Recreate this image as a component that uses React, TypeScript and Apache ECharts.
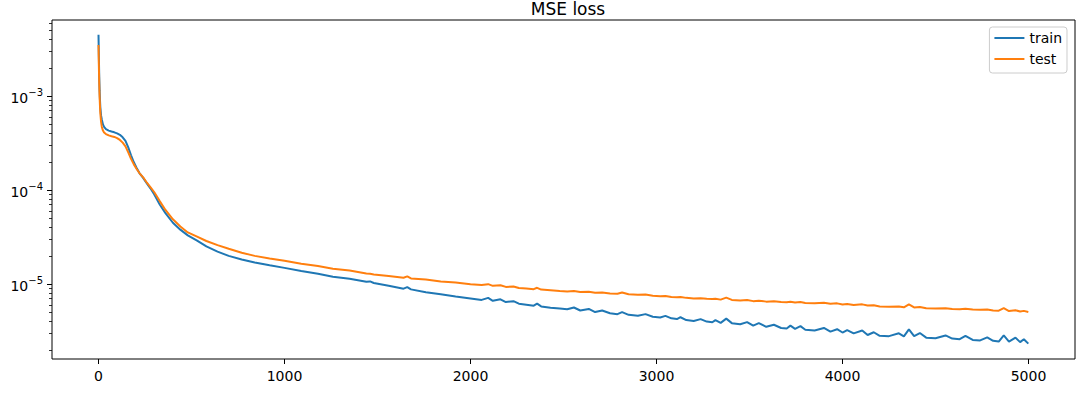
import React, { useEffect, useRef } from "react";
import * as echarts from "echarts";

const epochs = [
  0, 2, 4, 6, 8, 10, 14, 18, 24, 30,
  40, 55, 70, 85, 100, 115, 130, 145, 160, 175,
  190, 205, 220, 240, 260, 280, 300, 330, 360, 400,
  440, 480, 530, 580, 640, 700, 770, 840, 920, 1000,
  1090, 1180, 1260, 1350, 1440, 1460, 1480, 1560, 1640, 1660,
  1680, 1760, 1840, 1920, 2000, 2060, 2095, 2120, 2161, 2190,
  2231, 2260, 2300, 2340, 2358, 2380, 2430, 2480, 2520, 2556,
  2590, 2636, 2670, 2708, 2750, 2790, 2815, 2850, 2900, 2941,
  2980, 3020, 3048, 3080, 3110, 3129, 3160, 3200, 3237, 3270,
  3300, 3317, 3345, 3375, 3405, 3450, 3487, 3520, 3550, 3590,
  3631, 3670, 3700, 3720, 3745, 3774, 3800, 3850, 3900, 3935,
  3971, 4000, 4025, 4060, 4106, 4135, 4168, 4200, 4250, 4303,
  4330, 4357, 4385, 4416, 4450, 4500, 4554, 4590, 4630, 4661,
  4700, 4740, 4778, 4810, 4840, 4867, 4895, 4930, 4955, 4975,
  4999,
];

const trainLoss = [
  4.5e-3, 2.6e-3, 1.6e-3, 1.15e-3, 9.0e-4, 7.5e-4, 6.2e-4, 5.6e-4, 5.0e-4, 4.7e-4,
  4.45e-4, 4.3e-4, 4.2e-4, 4.12e-4, 4.02e-4, 3.88e-4, 3.65e-4, 3.35e-4, 2.85e-4, 2.35e-4,
  1.98e-4, 1.72e-4, 1.52e-4, 1.35e-4, 1.18e-4, 1.04e-4, 9.0e-5, 7.0e-5, 5.7e-5, 4.5e-5,
  3.8e-5, 3.3e-5, 2.9e-5, 2.52e-5, 2.22e-5, 2.0e-5, 1.83e-5, 1.7e-5, 1.59e-5, 1.49e-5,
  1.38e-5, 1.29e-5, 1.2e-5, 1.14e-5, 1.06e-5, 1.07e-5, 1.03e-5, 9.6e-6, 8.95e-6, 9.3e-6,
  8.8e-6, 8.2e-6, 7.8e-6, 7.4e-6, 7.05e-6, 6.8e-6, 7.15e-6, 6.65e-6, 6.9e-6, 6.45e-6,
  6.6e-6, 6.2e-6, 6.05e-6, 5.9e-6, 6.2e-6, 5.8e-6, 5.62e-6, 5.5e-6, 5.4e-6, 5.65e-6,
  5.25e-6, 5.45e-6, 5.05e-6, 5.25e-6, 4.9e-6, 4.8e-6, 5.05e-6, 4.72e-6, 4.62e-6, 4.8e-6,
  4.5e-6, 4.42e-6, 4.6e-6, 4.33e-6, 4.25e-6, 4.45e-6, 4.15e-6, 4.05e-6, 4.25e-6, 4.0e-6,
  3.93e-6, 4.15e-6, 3.88e-6, 4.3e-6, 3.85e-6, 3.75e-6, 3.95e-6, 3.62e-6, 3.85e-6, 3.52e-6,
  3.7e-6, 3.42e-6, 3.38e-6, 3.62e-6, 3.35e-6, 3.58e-6, 3.28e-6, 3.22e-6, 3.42e-6, 3.13e-6,
  3.32e-6, 3.06e-6, 3.25e-6, 3.0e-6, 3.22e-6, 2.88e-6, 3.08e-6, 2.82e-6, 2.8e-6, 3.0e-6,
  2.78e-6, 3.3e-6, 2.8e-6, 3.02e-6, 2.7e-6, 2.66e-6, 2.85e-6, 2.64e-6, 2.6e-6, 2.82e-6,
  2.55e-6, 2.52e-6, 2.72e-6, 2.5e-6, 2.45e-6, 2.85e-6, 2.45e-6, 2.7e-6, 2.42e-6, 2.6e-6,
  2.33e-6,
];

const testLoss = [
  3.5e-3, 2.1e-3, 1.35e-3, 9.8e-4, 7.8e-4, 6.5e-4, 5.3e-4, 4.7e-4, 4.3e-4, 4.1e-4,
  3.95e-4, 3.82e-4, 3.74e-4, 3.68e-4, 3.58e-4, 3.42e-4, 3.2e-4, 2.92e-4, 2.52e-4, 2.15e-4,
  1.88e-4, 1.68e-4, 1.52e-4, 1.37e-4, 1.2e-4, 1.07e-4, 9.5e-5, 7.6e-5, 6.15e-5, 4.9e-5,
  4.1e-5, 3.55e-5, 3.2e-5, 2.88e-5, 2.6e-5, 2.38e-5, 2.16e-5, 2.0e-5, 1.88e-5, 1.77e-5,
  1.65e-5, 1.56e-5, 1.46e-5, 1.4e-5, 1.3e-5, 1.29e-5, 1.27e-5, 1.22e-5, 1.17e-5, 1.21e-5,
  1.15e-5, 1.12e-5, 1.07e-5, 1.04e-5, 1.0e-5, 9.8e-6, 1.0e-5, 9.6e-6, 9.75e-6, 9.35e-6,
  9.45e-6, 9.1e-6, 9.0e-6, 8.85e-6, 9.15e-6, 8.75e-6, 8.6e-6, 8.45e-6, 8.36e-6, 8.45e-6,
  8.25e-6, 8.3e-6, 8.1e-6, 8.15e-6, 7.95e-6, 7.9e-6, 8.15e-6, 7.8e-6, 7.7e-6, 7.75e-6,
  7.55e-6, 7.45e-6, 7.5e-6, 7.3e-6, 7.25e-6, 7.3e-6, 7.15e-6, 7.05e-6, 7.1e-6, 7.0e-6,
  6.95e-6, 7.0e-6, 6.85e-6, 7.2e-6, 6.8e-6, 6.72e-6, 6.78e-6, 6.6e-6, 6.68e-6, 6.52e-6,
  6.58e-6, 6.45e-6, 6.42e-6, 6.5e-6, 6.38e-6, 6.45e-6, 6.32e-6, 6.28e-6, 6.35e-6, 6.2e-6,
  6.25e-6, 6.08e-6, 6.15e-6, 6.0e-6, 6.1e-6, 5.92e-6, 5.98e-6, 5.8e-6, 5.75e-6, 5.8e-6,
  5.68e-6, 6.1e-6, 5.65e-6, 5.72e-6, 5.55e-6, 5.52e-6, 5.55e-6, 5.45e-6, 5.42e-6, 5.48e-6,
  5.38e-6, 5.33e-6, 5.38e-6, 5.26e-6, 5.22e-6, 5.55e-6, 5.18e-6, 5.28e-6, 5.12e-6, 5.2e-6,
  5.06e-6,
];

const xTicks = [0, 1000, 2000, 3000, 4000, 5000];
const yMajorTicks = [1e-5, 1e-4, 1e-3];
const yMinorTicks = [
  2e-6, 3e-6, 4e-6, 5e-6, 6e-6, 7e-6, 8e-6, 9e-6,
  2e-5, 3e-5, 4e-5, 5e-5, 6e-5, 7e-5, 8e-5, 9e-5,
  2e-4, 3e-4, 4e-4, 5e-4, 6e-4, 7e-4, 8e-4, 9e-4,
  2e-3, 3e-3, 4e-3, 5e-3, 6e-3,
];

const FONT = "DejaVu Sans";
const Y_MIN = 1.6e-6;
const Y_MAX = 6.45e-3;

export default function App() {
  const ref = useRef<HTMLDivElement>(null);
  useEffect(() => {
    if (!ref.current) return;
    const chart = echarts.init(ref.current, undefined, { renderer: "svg" });
    const expLabel = (v: number) => {
      const e = Math.round(Math.log10(v));
      const s = e < 0 ? "\u2212" + Math.abs(e) : String(e);
      return `{b|10}{e|${s}}`;
    };
    chart.setOption({
      animation: false,
      title: {
        text: "MSE loss",
        left: 563,
        top: -5,
        textAlign: "center",
        textStyle: { fontFamily: FONT, fontSize: 17, fontWeight: "normal", color: "#000" },
      },
      legend: {
        orient: "vertical",
        right: 17,
        top: 27,
        padding: [4, 5, 7, 5],
        itemWidth: 30,
        itemHeight: 2,
        itemGap: 7,
        icon: "rect",
        borderColor: "#cccccc",
        borderWidth: 1,
        borderRadius: 3,
        backgroundColor: "rgba(255,255,255,0.8)",
        textStyle: { fontFamily: FONT, fontSize: 14, color: "#000" },
        data: ["train", "test"],
      },
      grid: {
        left: 52,
        right: 9,
        top: 20,
        bottom: 35,
        show: true,
        borderColor: "#000",
        borderWidth: 1,
        backgroundColor: "transparent",
      },
      xAxis: {
        type: "value",
        min: -250,
        max: 5250,
        axisLine: { show: false, onZero: false },
        splitLine: { show: false },
        axisTick: { show: true, length: 5, customValues: xTicks, lineStyle: { color: "#000", width: 1 } },
        axisLabel: {
          customValues: xTicks,
          margin: 10,
          fontFamily: FONT,
          fontSize: 14,
          color: "#000",
          formatter: (v: number) => String(v),
        },
      },
      yAxis: [
        {
          type: "log",
          min: Y_MIN,
          max: Y_MAX,
          position: "left",
          axisLine: { show: false, onZero: false },
          splitLine: { show: false },
          axisTick: { show: true, length: 5, customValues: yMajorTicks, lineStyle: { color: "#000", width: 1 } },
          axisLabel: {
            customValues: yMajorTicks,
            margin: 9,
            formatter: expLabel,
            rich: {
              b: { fontFamily: FONT, fontSize: 14, color: "#000", verticalAlign: "bottom" },
              e: { fontFamily: FONT, fontSize: 10, color: "#000", verticalAlign: "bottom", padding: [0, 0, 7, 0] },
            },
          },
        },
        {
          type: "log",
          min: Y_MIN,
          max: Y_MAX,
          position: "left",
          offset: 0,
          axisLine: { show: false, onZero: false },
          splitLine: { show: false },
          axisLabel: { show: false },
          axisTick: { show: true, length: 3, customValues: yMinorTicks, lineStyle: { color: "#000", width: 0.8 } },
        },
      ],
      series: [
        {
          name: "train",
          type: "line",
          yAxisIndex: 0,
          showSymbol: false,
          symbol: "none",
          data: epochs.map((e, i) => [e, trainLoss[i]]),
          lineStyle: { color: "#1f77b4", width: 2 },
          itemStyle: { color: "#1f77b4" },
        },
        {
          name: "test",
          type: "line",
          yAxisIndex: 0,
          showSymbol: false,
          symbol: "none",
          data: epochs.map((e, i) => [e, testLoss[i]]),
          lineStyle: { color: "#ff7f0e", width: 2 },
          itemStyle: { color: "#ff7f0e" },
        },
      ],
    });
    return () => chart.dispose();
  }, []);
  return (
    <div
      ref={ref}
      style={{ position: "absolute", left: 0, top: 0, width: 1084, height: 394, background: "#fff" }}
    />
  );
}
